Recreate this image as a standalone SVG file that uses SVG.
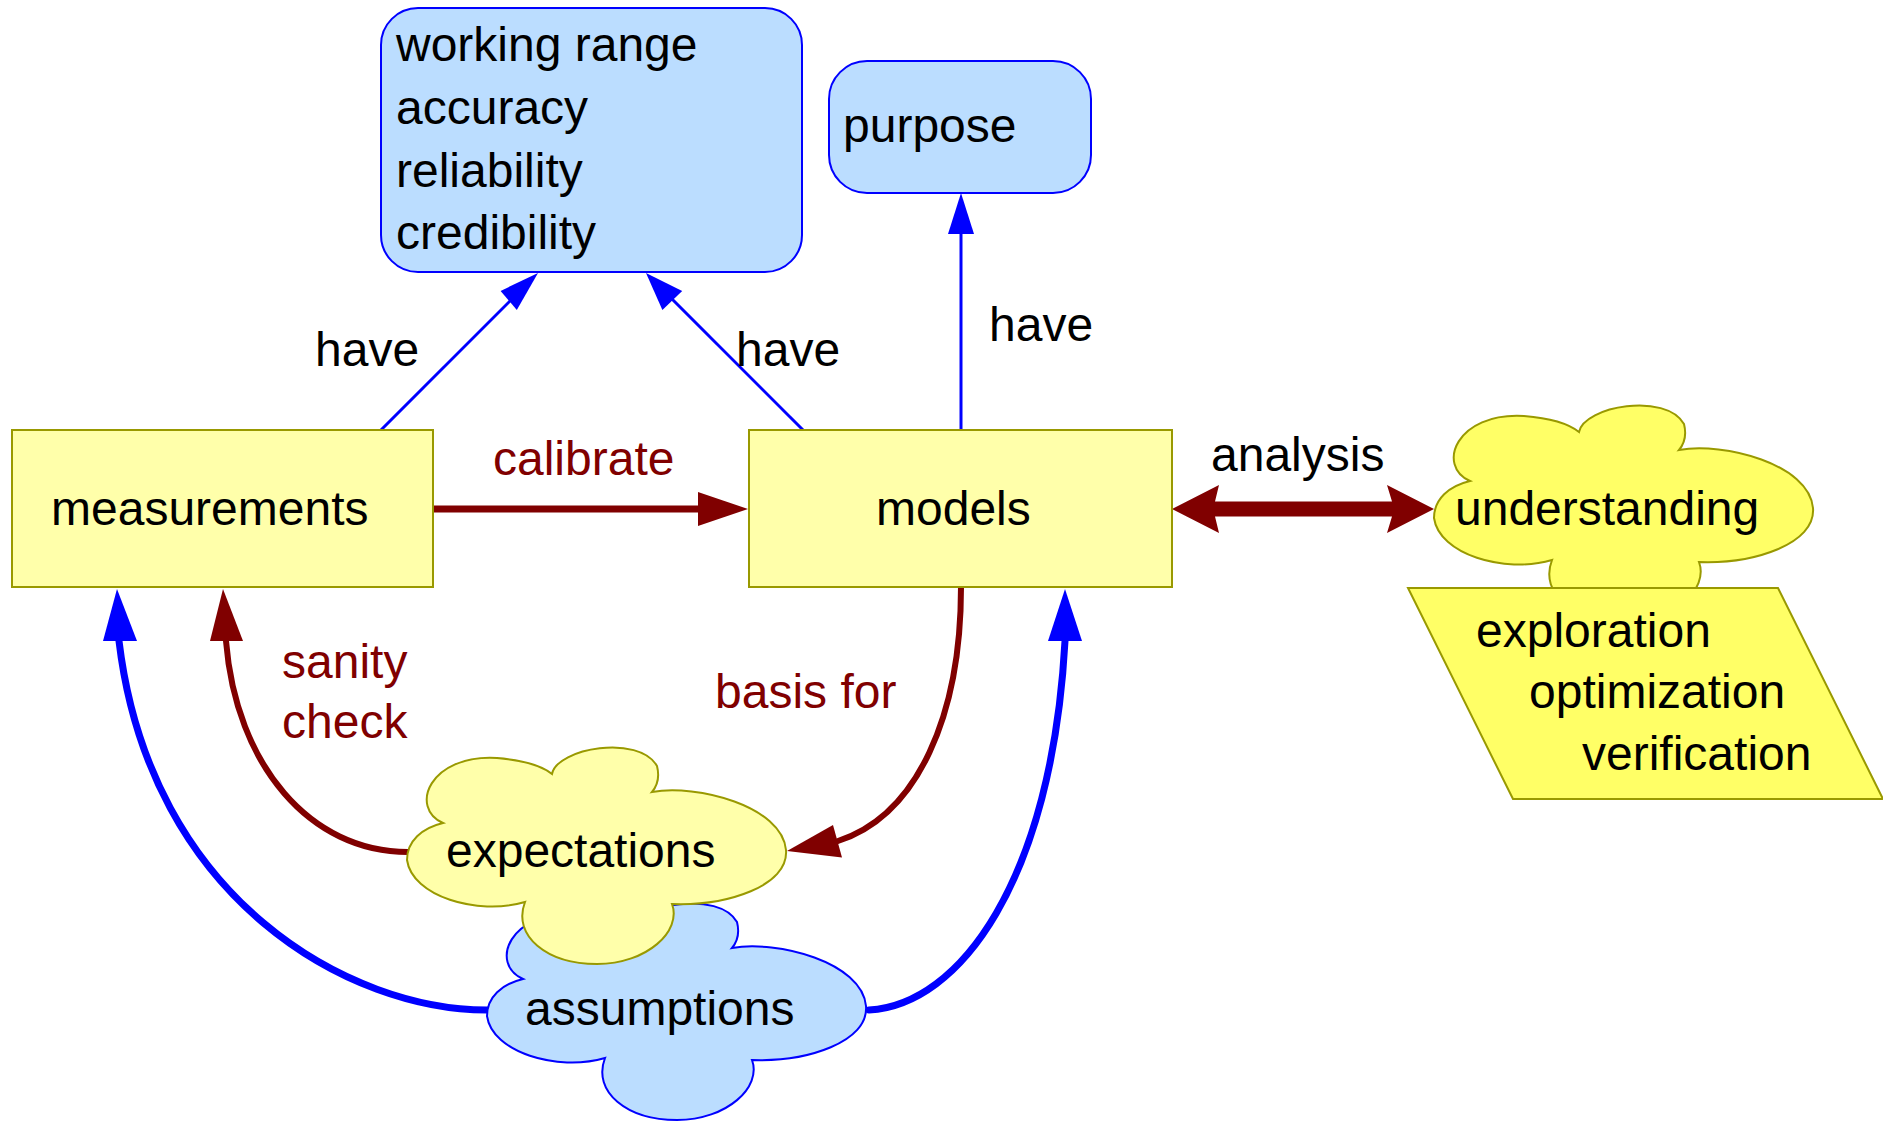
<svg xmlns="http://www.w3.org/2000/svg" xmlns:xlink="http://www.w3.org/1999/xlink" width="1883" height="1122" viewBox="0 0 1883 1122">
<style>
  text { font-family: "Liberation Sans", Arial, sans-serif; font-size: 48px; fill: #000000; }
  text.red { fill: #800000; }
  .ybox { fill: #ffffaa; stroke: #999900; stroke-width: 2; }
  .bbox { fill: #bbddff; stroke: #0000ff; stroke-width: 2; }
  .thin { fill: none; stroke: #0000ff; stroke-width: 3; }
  .bcurve { fill: none; stroke: #0000ff; stroke-width: 7; stroke-linecap: round; }
  .rcurve { fill: none; stroke: #800000; stroke-width: 6; stroke-linecap: round; }
  .bhead { fill: #0000ff; stroke: none; }
  .rhead { fill: #800000; stroke: none; }
</style>
<defs>
  <path id="cloud" d="M 118,156 C 70,170 5,150 0,114 C 0,95 15,82 36,77 C 2,62 22,8 90,12 C 115,14 135,20 145,28 C 150,2 232,-12 250,20 C 253,32 250,40 245,46 C 290,38 375,60 379,104 C 382,140 320,160 265,158 C 275,185 240,218 190,218 C 140,218 105,190 118,156 Z"/>
</defs>
<rect width="1883" height="1122" fill="#ffffff"/>

<g id="connectors">
  <!-- have: measurements -> properties -->
  <line class="thin" x1="381" y1="430" x2="515" y2="296"/>
  <polygon class="bhead" points="538,273 500.6,290.9 516.8,310"/>
  <!-- have: models -> properties -->
  <line class="thin" x1="803" y1="430" x2="669" y2="296"/>
  <polygon class="bhead" points="646,273 662.4,310 682.2,290.9"/>
  <!-- have: models -> purpose -->
  <line class="thin" x1="961" y1="430" x2="961" y2="230"/>
  <polygon class="bhead" points="961,193 948,234 974,234"/>
  <!-- calibrate -->
  <line x1="433" y1="509" x2="702" y2="509" stroke="#800000" stroke-width="7" stroke-linecap="round"/>
  <polygon class="rhead" points="748,509 698,492 698,526"/>
  <!-- analysis double arrow -->
  <polygon class="rhead" points="1172,509 1219,485 1215,501.5 1392,501.5 1387,485 1434,509 1387,533 1392,516.5 1215,516.5 1219,533"/>
  <!-- assumptions -> measurements -->
  <path class="bcurve" d="M 489,1010 C 350,1011 150,900 119,641"/>
  <polygon class="bhead" points="117,589 103,641 137,641"/>
  <!-- expectations -> measurements (sanity check) -->
  <path class="rcurve" d="M 408,852 C 310,852 236,765 226,641"/>
  <polygon class="rhead" points="223,589 210,641 243,641"/>
  <!-- models -> expectations (basis for) -->
  <path class="rcurve" d="M 961,587 C 961,715 918,815 838,841"/>
  <polygon class="rhead" points="787,851 833,825 842,857.5"/>
  <!-- assumptions -> models -->
  <path class="bcurve" d="M 869,1010 C 960,1005 1052,880 1065,641"/>
  <polygon class="bhead" points="1065,589 1048,641 1082,641"/>
</g>

<g id="properties">
  <rect class="bbox" x="381" y="8" width="421" height="264" rx="37" ry="37"/>
  <text x="396" y="61">working range</text>
  <text x="396" y="124">accuracy</text>
  <text x="396" y="187">reliability</text>
  <text x="396" y="249">credibility</text>
</g>

<g id="purpose">
  <rect class="bbox" x="829" y="61" width="262" height="132" rx="38" ry="38"/>
  <text x="843" y="142">purpose</text>
</g>

<g id="measurements">
  <rect class="ybox" x="12" y="430" width="421" height="157"/>
  <text x="51" y="525">measurements</text>
</g>

<g id="models">
  <rect class="ybox" x="749" y="430" width="423" height="157"/>
  <text x="876" y="525">models</text>
</g>

<g id="understanding">
  <use xlink:href="#cloud" transform="translate(1434,404)" fill="#ffff66" stroke="#999900" stroke-width="2"/>
  <text x="1455" y="525">understanding</text>
</g>

<g id="uses">
  <polygon points="1408,588 1778,588 1883,799 1513,799" fill="#ffff66" stroke="#999900" stroke-width="2"/>
  <text x="1476" y="647">exploration</text>
  <text x="1529" y="708">optimization</text>
  <text x="1582" y="770">verification</text>
</g>

<g id="assumptions">
  <use xlink:href="#cloud" transform="translate(487,902)" fill="#bbddff" stroke="#0000ff" stroke-width="2"/>
  <text x="525" y="1025">assumptions</text>
</g>

<g id="expectations">
  <use xlink:href="#cloud" transform="translate(407,746)" fill="#ffffaa" stroke="#999900" stroke-width="2"/>
  <text x="446" y="867">expectations</text>
</g>

<g id="labels">
  <text x="315" y="366">have</text>
  <text x="736" y="366">have</text>
  <text x="989" y="341">have</text>
  <text class="red" x="493" y="475">calibrate</text>
  <text x="1211" y="471">analysis</text>
  <text class="red" x="282" y="678">sanity</text>
  <text class="red" x="282" y="738">check</text>
  <text class="red" x="715" y="708">basis for</text>
</g>
</svg>
